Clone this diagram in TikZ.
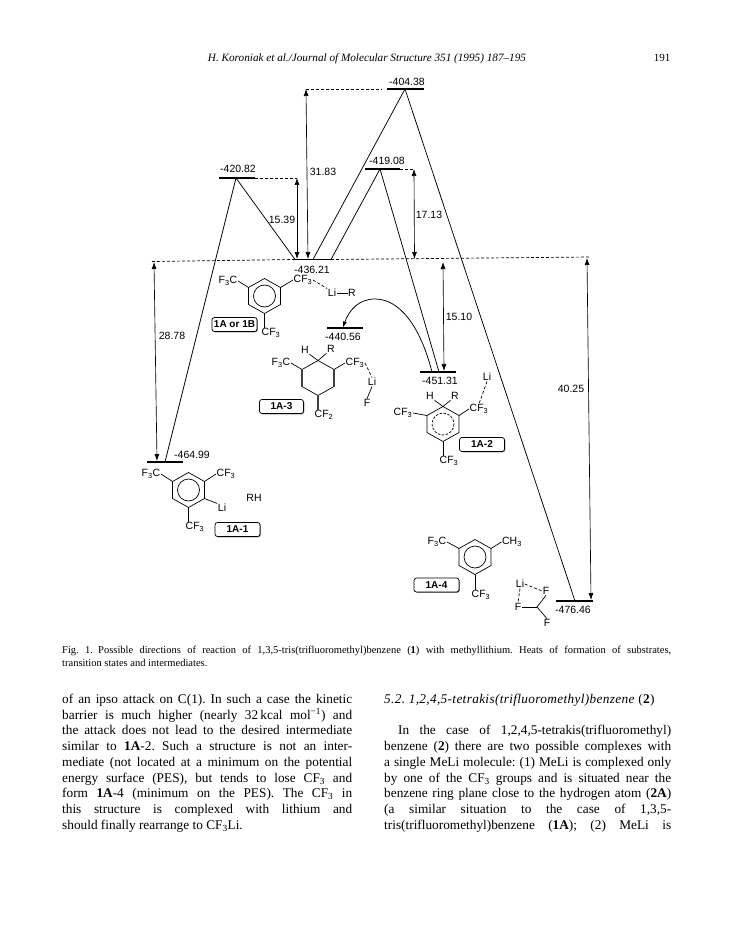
\documentclass[tikz,border=0pt]{standalone}
\usepackage{fontspec}
\setmainfont{Liberation Serif}
\setsansfont{Liberation Sans}
\usetikzlibrary{arrows.meta,shadows}
\newcommand{\benzring}[3]{%
\foreach \i/\dx/\dy in {1/0/-17.5,2/16/-8.5,3/16/8.5,4/0/17.5,5/-16/8.5,6/-16/-8.5}
  {\coordinate (#1-\i) at (#2+\dx,#3+\dy);}
\coordinate (#1-c) at (#2,#3);
\draw[ringline] (#1-1) -- (#1-2) -- (#1-3) -- (#1-4) -- (#1-5) -- (#1-6) -- cycle;}
\newcommand{\cfthree}{CF\textsubscript{3}}
\newcommand{\fthreec}{F\textsubscript{3}C}
\tikzset{
  levelbar/.style={fill=black, inner sep=0pt, outer sep=0pt, minimum height=1.3pt},
  energy/.style={font=\sffamily\fontsize{10.5}{12}\selectfont, inner sep=0.5pt},
  chem/.style={font=\sffamily\fontsize{10.5}{12}\selectfont, inner sep=0.5pt},
  ringline/.style={line width=0.7pt},
  pathline/.style={line width=0.75pt},
  gapline/.style={<->, >={Latex[length=7pt,width=5pt]}, line width=0.65pt},
  levelline/.style={dash pattern=on 3pt off 2pt, line width=0.7pt},
  tagbox/.style={draw, rounded corners=2.5pt, fill=white, line width=0.7pt, inner sep=0pt,
    minimum width=44pt, minimum height=14pt, font=\sffamily\bfseries\fontsize{10}{12}\selectfont,
    drop shadow={opacity=1, shadow xshift=0.8pt, shadow yshift=-0.8pt}},
  bodytext/.style={anchor=north west, inner sep=0pt, align=justify,
    font=\rmfamily\fontsize{13.3}{15.7}\selectfont\frenchspacing}
}
\begin{document}
\begin{tikzpicture}[x=1pt, y=-1pt]
\useasboundingbox (0,0) rectangle (735,936);

\node[inner sep=0pt, font=\rmfamily\itshape\fontsize{11.2}{12}\selectfont] (head) at (367,59)
{H. Koroniak et al./Journal of Molecular Structure 351 (1995) 187--195};
\node[inner sep=0pt, font=\rmfamily\fontsize{11}{12}\selectfont] (pageno) at (662,58) {191};

\node[levelbar, minimum width=37pt] (bar404) at (405.5,89) {};
\node[levelbar, minimum width=36pt] (bar420) at (237,178) {};
\node[levelbar, minimum width=35pt] (bar419) at (382.5,169) {};
\node[levelbar, minimum width=36pt] (bar436) at (313,259.5) {};
\node[levelbar, minimum width=36pt] (bar440) at (345,328) {};
\node[levelbar, minimum width=36pt] (bar451) at (438,372) {};
\node[levelbar, minimum width=36pt] (bar464) at (165,462) {};
\node[levelbar, minimum width=37pt] (bar476) at (574.5,601) {};

\node[energy] (e404) at (407,82) {-404.38};
\node[energy] (e420) at (238,169) {-420.82};
\node[energy] (e419) at (387,161) {-419.08};
\node[energy] (e436) at (312,270) {-436.21};
\node[energy] (e440) at (343,337) {-440.56};
\node[energy] (e451) at (440,381) {-451.31};
\node[energy] (e464) at (192,455) {-464.99};
\node[energy] (e476) at (573,610) {-476.46};

\node[energy] (d1539) at (282,220) {15.39};
\node[energy] (d3183) at (323,172) {31.83};
\node[energy] (d1713) at (429,215) {17.13};
\node[energy] (d1510) at (459,317) {15.10};
\node[energy] (d4025) at (571,389) {40.25};
\node[energy] (d2878) at (172,336) {28.78};

\coordinate (top404) at (405,89);
\coordinate (top420) at (236,178);
\coordinate (top419) at (380,169);
\coordinate (foot420) at (295,259.5);
\coordinate (foot404) at (313,259.5);
\coordinate (foot419) at (331,259.5);
\coordinate (foot464) at (165,462);
\coordinate (foot451) at (439,372);
\coordinate (foot476) at (575,601);

\draw[pathline] (foot464) -- (top420) -- (foot420);
\draw[pathline] (foot404) -- (top404) -- (foot476);
\draw[pathline] (foot419) -- (top419) -- (foot451);

\coordinate (lineL) at (152,261.5);
\coordinate (lineR) at (590,257);
\coordinate (up31) at (306,89);
\coordinate (up15) at (297,178);
\coordinate (up17) at (414,169);
\draw[levelline] (lineL) -- (bar436.west);
\draw[levelline] (bar436.east) -- (lineR);
\draw[levelline] (up31) -- (382,89);
\draw[levelline] (bar420.east) -- (up15);
\draw[levelline] (bar419.east) -- (up17);

\draw[gapline] (up15) -- (297,259);
\draw[gapline] (up31) -- (308,259);
\draw[gapline] (up17) -- (414.5,259);
\draw[gapline] (154,262) -- (157,461);
\draw[gapline] (443,262) -- (444,371);
\draw[gapline] (587,258) -- (591,600);

\coordinate (curveA) at (432,372);
\coordinate (curveB) at (343,327.5);
\draw[pathline, ->, >={Latex[length=6pt,width=4pt]}] (curveA)
  .. controls (420,325) and (399,299) .. (375,299)
  .. controls (359,299) and (349,310) .. (curveB);

\benzring{ra}{264.5}{296}
\draw[ringline] (ra-c) circle [radius=11];
\node[chem] (ra1) at (228,281) {\fthreec};
\node[chem] (ra2) at (303,280) {\cfthree};
\node[chem] (ra3) at (271,333) {\cfthree};
\node[chem] (ali) at (332,293) {Li};
\node[chem] (ar) at (352,293) {R};
\draw[ringline] (ra-6) -- (ra1.east);
\draw[ringline] (ra-2) -- (ra2.west);
\draw[ringline] (ra-4) -- (ra-4 |- ra3.north);
\draw[ringline] (ali.east) -- (ar.west);
\draw[levelline] (ra2.east) -- (ali.north west);
\node[tagbox, minimum width=45pt] (tagA) at (234.5,324.5) {1A or 1B};

\benzring{rc}{318}{378}
\node[chem] (rc1) at (281,363) {\fthreec};
\node[chem] (rc2) at (355,363) {\cfthree};
\node[chem] (rc3) at (324,415) {CF\textsubscript{2}};
\node[chem] (ch) at (305,350) {H};
\node[chem] (cr) at (331,349) {R};
\node[chem] (cli) at (372,382) {Li};
\node[chem] (cf) at (367,403) {F};
\draw[ringline] (rc-6) -- (rc1.east);
\draw[ringline] (rc-2) -- (rc2.west);
\draw[ringline] (rc-1) -- (ch.south east);
\draw[ringline] (rc-1) -- (cr.south west);
\draw[line width=1.3pt, black!75] (rc-6) -- (rc-5);
\draw[line width=1.3pt, black!75] (rc-2) -- (rc-3);
\draw[line width=1.3pt, black!75] (rc-4) -- (rc-4 |- rc3.north);
\draw[levelline] (rc2.east) -- (cli.north);
\draw[ringline] (cli.south) -- (cf.north);
\node[tagbox] (tagC) at (281.5,406.5) {1A-3};

\benzring{rb}{443}{424}
\draw[ringline, dash pattern=on 2.5pt off 1.5pt] (rb-c) circle [radius=11];
\node[chem] (rb1) at (403,413) {\cfthree};
\node[chem] (rb2) at (479,409) {\cfthree};
\node[chem] (rb3) at (449,461) {\cfthree};
\node[chem] (bh) at (430,396) {H};
\node[chem] (br) at (455,396) {R};
\node[chem] (bli) at (487,377) {Li};
\draw[ringline] (rb-6) -- (rb1.east);
\draw[ringline] (rb-2) -- (rb2.west);
\draw[ringline] (rb-4) -- (rb-4 |- rb3.north);
\draw[ringline] (rb-1) -- (bh.south east);
\draw[ringline] (rb-1) -- (br.south west);
\draw[levelline] (bli.south) -- (rb2.north);
\node[tagbox, minimum width=45pt] (tagB) at (482,444.5) {1A-2};

\benzring{rd}{188.5}{490}
\draw[ringline] (rd-c) circle [radius=11];
\node[chem] (rd1) at (151,474) {\fthreec};
\node[chem] (rd2) at (226,474) {\cfthree};
\node[chem] (rd3) at (195,527) {\cfthree};
\node[chem] (dli) at (222,508) {Li};
\node[chem] (drh) at (254,498) {RH};
\draw[ringline] (rd-6) -- (rd1.east);
\draw[ringline] (rd-2) -- (rd2.west);
\draw[ringline] (rd-4) -- (rd-4 |- rd3.north);
\draw[ringline] (rd-3) -- (dli.north west);
\node[tagbox, minimum width=45pt] (tagD) at (237.5,529.5) {1A-1};

\benzring{re}{475}{557}
\draw[ringline] (re-c) circle [radius=11];
\node[chem] (re1) at (437,542) {\fthreec};
\node[chem] (re2) at (512,542) {CH\textsubscript{3}};
\node[chem] (re3) at (481,595) {\cfthree};
\node[chem] (eli) at (520,584) {Li};
\node[chem] (ef1) at (546,591) {F};
\node[chem] (ef2) at (518,607) {F};
\node[chem] (ef3) at (547,623) {F};
\coordinate (ec) at (537,607);
\draw[ringline] (re-6) -- (re1.east);
\draw[ringline] (re-2) -- (re2.west);
\draw[ringline] (re-4) -- (re-4 |- re3.north);
\draw[ringline] (ef2.east) -- (ec);
\draw[ringline] (ec) -- (ef1.south);
\draw[ringline] (ec) -- (ef3.north);
\draw[levelline] (eli.east) -- (ef1.west);
\draw[levelline] (eli.south) -- (ef2.north);
\node[tagbox, minimum width=45pt] (tagE) at (436.5,585) {1A-4};

\node[bodytext, text width=609pt, font=\rmfamily\fontsize{10.5}{13}\selectfont\frenchspacing] (caption) at (62,646)
{Fig. 1.\enspace Possible directions of reaction of 1,3,5-tris(trifluoromethyl)benzene (\textbf{1}) with methyllithium. Heats of formation of substrates,\linebreak
transition states and intermediates.};

\node[bodytext, text width=290pt] (colL) at (62,694)
{of an ipso attack on C(1). In such a case the kinetic\linebreak
barrier is much higher (nearly 32\,kcal mol\textsuperscript{−1}) and\linebreak
the attack does not lead to the desired intermediate\linebreak
similar to \textbf{1A}-2. Such a structure is not an inter-\linebreak
mediate (not located at a minimum on the potential\linebreak
energy surface (PES), but tends to lose CF\textsubscript{3} and\linebreak
form \textbf{1A}-4 (minimum on the PES). The CF\textsubscript{3} in\linebreak
this structure is complexed with lithium and\linebreak
should finally rearrange to CF\textsubscript{3}Li.};

\node[bodytext, text width=287pt] (colR) at (384,694)
{{\addfontfeature{LetterSpace=2.5}\textit{5.2. 1,2,4,5-tetrakis(trifluoromethyl)benzene} (\textbf{2})}\\[15.7pt]
\hspace*{14pt}In the case of 1,2,4,5-tetrakis(trifluoromethyl)\linebreak
benzene (\textbf{2}) there are two possible complexes with\linebreak
a single MeLi molecule: (1) MeLi is complexed only\linebreak
by one of the CF\textsubscript{3} groups and is situated near the\linebreak
benzene ring plane close to the hydrogen atom (\textbf{2A})\linebreak
(a similar situation to the case of 1,3,5-\linebreak
\makebox[287pt][s]{tris(trifluoromethyl)benzene (\textbf{1A}); (2) MeLi is}};
\end{tikzpicture}
\end{document}
